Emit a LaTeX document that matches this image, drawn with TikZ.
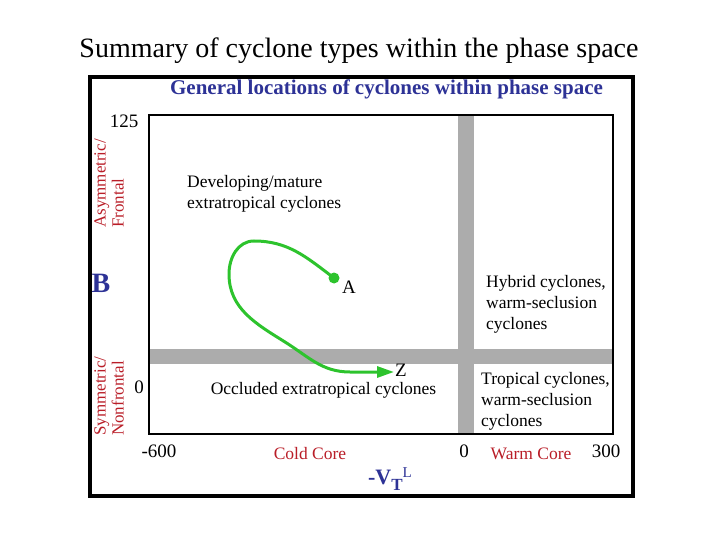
\documentclass[tikz,border=0pt]{standalone}
\usepackage{fontspec}
\setmainfont{Liberation Serif}
\usetikzlibrary{arrows.meta}

\definecolor{titleblue}{RGB}{45,50,150}
\definecolor{labelred}{RGB}{185,30,40}
\definecolor{trackgreen}{RGB}{45,195,45}
\definecolor{bargray}{RGB}{172,172,172}

\begin{document}
\begin{tikzpicture}[x=1pt,y=-1pt,
        txt/.style={inner sep=0pt,align=left,font=\fontsize{17.5}{21}\selectfont},
        tick/.style={inner sep=0pt,font=\fontsize{19}{19}\selectfont},
        side/.style={inner sep=0pt,align=left,rotate=90,anchor=west,text=labelred,font=\fontsize{17}{18}\selectfont},
        core/.style={inner sep=0pt,text=labelred,font=\fontsize{17.5}{17.5}\selectfont},
        track/.style={draw=trackgreen,line width=3pt,line cap=round},
        dotmark/.style={circle,fill=trackgreen,inner sep=0pt,minimum size=11pt}]
                \useasboundingbox (0,0) rectangle (720,540);

                % heading and frame
                \node[inner sep=0pt,font=\fontsize{28}{28}\selectfont] (head) at (359,51) {Summary of cyclone types within the phase space};
                \draw[line width=4pt] (90,77.5) rectangle (633,496);
                \node[inner sep=0pt,text=titleblue,font=\fontsize{21}{21}\bfseries\selectfont] (sub) at (386.5,89) {General locations of cyclones within phase space};

                % grey separators and plot box
                \fill[bargray] (458,115) rectangle (474,434);
                \fill[bargray] (149,349) rectangle (613,364);
                \draw[line width=1.4pt] (149,115) rectangle (613,434);

                % axis numbers
                \node[tick] (ytop) at (124,121) {125};
                \node[tick] (yzero) at (139,387) {0};
                \node[tick] (xleft) at (159,451) {-600};
                \node[tick] (xzero) at (464,451) {0};
                \node[tick] (xright) at (606,451) {300};

                % axis labels
                \node[side] (asym) at (109,228) {Asymmetric/\\Frontal};
                \node[side] (sym) at (109,436) {Symmetric/\\Nonfrontal};
                \node[inner sep=0pt,text=titleblue,font=\fontsize{28}{28}\bfseries\selectfont] (bparam) at (101,283) {B};
                \node[core] (cold) at (310,454) {Cold Core};
                \node[core] (warm) at (531,454) {Warm Core};
                \node[inner sep=0pt,text=titleblue,font=\fontsize{22}{22}\bfseries\selectfont] (vtl) at (390,479)
                    {-V\raisebox{-6pt}{\fontsize{17}{17}\selectfont T}\raisebox{7pt}{\fontsize{15}{15}\mdseries\selectfont L}};

                % regions
                \node[txt,anchor=west] (develop) at (187,193.5) {Developing/mature\\extratropical cyclones};
                \node[txt] (occluded) at (323.5,390) {Occluded extratropical cyclones};
                \node[txt,anchor=west] (hybrid) at (486,304) {Hybrid cyclones,\\warm-seclusion\\cyclones};
                \node[txt,anchor=west] (tropical) at (481,401) {Tropical cyclones,\\warm-seclusion\\cyclones};

                % cyclone path A -> Z
                \node[dotmark] (ptA) at (334,278) {};
                \node[txt,font=\fontsize{19}{19}\selectfont] (labA) at (349,287) {A};
                \node[txt,font=\fontsize{19}{19}\selectfont] (labZ) at (401,370) {Z};
                \coordinate (top) at (254,241);
                \coordinate (far) at (229,274);
                \coordinate (low) at (285,342);
                \coordinate (flat) at (350,372);
                \coordinate (endZ) at (394,372);
                \draw[track,-{Triangle[length=17pt,width=11pt]}] (ptA.center) to[out=143,in=0] (top)
                    to[out=180,in=90] (far) to[out=-90,in=148] (low) to[out=-32,in=180] (flat) -- (endZ);
            \end{tikzpicture}
\end{document}
